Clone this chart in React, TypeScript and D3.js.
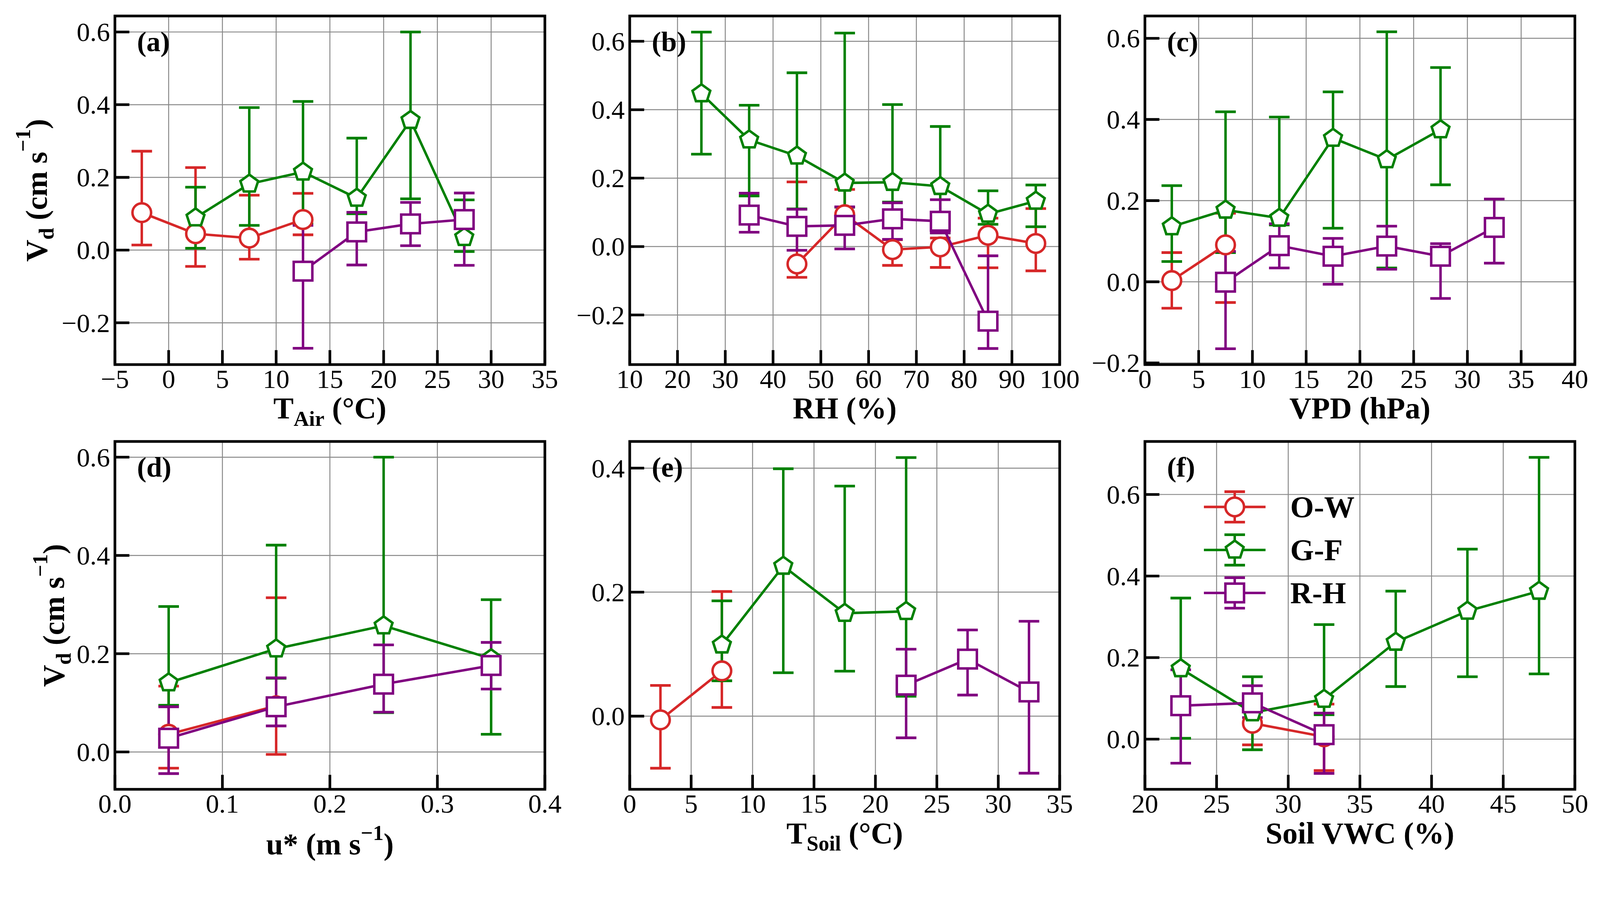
import React from "react";
import * as d3 from "d3";

// ---------------- DATA ----------------
// Panel (a) T_Air (°C)
const a_ow_x = [-2.5, 2.5, 7.5, 12.5];
const a_ow_y = [0.103, 0.045, 0.033, 0.084];
const a_ow_lo = [0.014, -0.045, -0.025, 0.042];
const a_ow_hi = [0.272, 0.227, 0.151, 0.156];
const a_gf_x = [2.5, 7.5, 12.5, 17.5, 22.5, 27.5];
const a_gf_y = [0.089, 0.182, 0.215, 0.143, 0.357, 0.035];
const a_gf_lo = [0.005, 0.068, 0.072, 0.1, 0.141, -0.004];
const a_gf_hi = [0.173, 0.392, 0.409, 0.308, 0.6, 0.138];
const a_rh_x = [12.5, 17.5, 22.5, 27.5];
const a_rh_y = [-0.058, 0.05, 0.072, 0.084];
const a_rh_lo = [-0.27, -0.041, 0.012, -0.042];
const a_rh_hi = [0.068, 0.104, 0.131, 0.157];

// Panel (b) RH (%)
const b_ow_x = [45, 55, 65, 75, 85, 95];
const b_ow_y = [-0.051, 0.093, -0.009, -0.001, 0.033, 0.009];
const b_ow_lo = [-0.09, 0.04, -0.055, -0.061, -0.062, -0.071];
const b_ow_hi = [0.189, 0.167, 0.02, 0.025, 0.083, 0.111];
const b_gf_x = [25, 35, 45, 55, 65, 75, 85, 95];
const b_gf_y = [0.447, 0.312, 0.265, 0.186, 0.188, 0.176, 0.095, 0.133];
const b_gf_lo = [0.27, 0.148, 0.11, 0.115, 0.13, 0.04, 0.065, 0.058];
const b_gf_hi = [0.627, 0.413, 0.508, 0.624, 0.415, 0.351, 0.163, 0.18];
const b_rh_x = [35, 45, 55, 65, 75, 85];
const b_rh_y = [0.092, 0.059, 0.062, 0.081, 0.074, -0.218];
const b_rh_lo = [0.042, -0.011, -0.007, 0.021, 0.04, -0.298];
const b_rh_hi = [0.156, 0.109, 0.116, 0.128, 0.137, -0.027];

// Panel (c) VPD (hPa)
const c_ow_x = [2.5, 7.5];
const c_ow_y = [0.003, 0.091];
const c_ow_lo = [-0.065, -0.051];
const c_ow_hi = [0.072, 0.169];
const c_gf_x = [2.5, 7.5, 12.5, 17.5, 22.5, 27.5];
const c_gf_y = [0.136, 0.177, 0.157, 0.354, 0.301, 0.375];
const c_gf_lo = [0.05, 0.072, 0.14, 0.132, 0.034, 0.239];
const c_gf_hi = [0.237, 0.419, 0.406, 0.468, 0.616, 0.528];
const c_rh_x = [7.5, 12.5, 17.5, 22.5, 27.5, 32.5];
const c_rh_y = [-0.001, 0.089, 0.063, 0.088, 0.063, 0.134];
const c_rh_lo = [-0.165, 0.034, -0.006, 0.031, -0.041, 0.046];
const c_rh_hi = [0.075, 0.143, 0.107, 0.137, 0.094, 0.204];

// Panel (d) u* (m s-1)
const d_ow_x = [0.05, 0.15];
const d_ow_y = [0.036, 0.094];
const d_ow_lo = [-0.033, -0.005];
const d_ow_hi = [0.134, 0.314];
const d_gf_x = [0.05, 0.15, 0.25, 0.35];
const d_gf_y = [0.141, 0.21, 0.257, 0.19];
const d_gf_lo = [0.095, 0.15, 0.08, 0.036];
const d_gf_hi = [0.296, 0.421, 0.6, 0.31];
const d_rh_x = [0.05, 0.15, 0.25, 0.35];
const d_rh_y = [0.028, 0.092, 0.138, 0.176];
const d_rh_lo = [-0.044, 0.053, 0.081, 0.128];
const d_rh_hi = [0.092, 0.151, 0.218, 0.223];

// Panel (e) T_Soil (°C)
const e_ow_x = [2.5, 7.5];
const e_ow_y = [-0.006, 0.073];
const e_ow_lo = [-0.084, 0.014];
const e_ow_hi = [0.0495, 0.201];
const e_gf_x = [7.5, 12.5, 17.5, 22.5];
const e_gf_y = [0.115, 0.242, 0.166, 0.169];
const e_gf_lo = [0.057, 0.07, 0.0725, 0.032];
const e_gf_hi = [0.186, 0.399, 0.371, 0.417];
const e_rh_x = [22.5, 27.5, 32.5];
const e_rh_y = [0.05, 0.092, 0.039];
const e_rh_lo = [-0.035, 0.034, -0.092];
const e_rh_hi = [0.108, 0.139, 0.153];

// Panel (f) Soil VWC (%)
const f_ow_x = [27.5, 32.5];
const f_ow_y = [0.039, 0.006];
const f_ow_lo = [-0.014, -0.077];
const f_ow_hi = [0.07, 0.086];
const f_gf_x = [22.5, 27.5, 32.5, 37.5, 42.5, 47.5];
const f_gf_y = [0.173, 0.065, 0.098, 0.238, 0.314, 0.363];
const f_gf_lo = [0.002, -0.026, 0.06, 0.129, 0.153, 0.16];
const f_gf_hi = [0.346, 0.153, 0.281, 0.363, 0.466, 0.691];
const f_rh_x = [22.5, 27.5, 32.5];
const f_rh_y = [0.082, 0.089, 0.011];
const f_rh_lo = [-0.059, 0.053, -0.084];
const f_rh_hi = [0.17, 0.131, 0.064];

// Axis ticks
const xTicksA = [-5, 0, 5, 10, 15, 20, 25, 30, 35];
const xTicksB = [10, 20, 30, 40, 50, 60, 70, 80, 90, 100];
const xTicksC = [0, 5, 10, 15, 20, 25, 30, 35, 40];
const xTicksD = [0.0, 0.1, 0.2, 0.3, 0.4];
const xTicksE = [0, 5, 10, 15, 20, 25, 30, 35];
const xTicksF = [20, 25, 30, 35, 40, 45, 50];
const yTicksABC = [-0.2, 0.0, 0.2, 0.4, 0.6];
const yTicksDF = [0.0, 0.2, 0.4, 0.6];
const yTicksE = [0.0, 0.2, 0.4];

const seriesNames = ["O-W", "G-F", "R-H"];

// ---------------- STYLE ----------------
const COLORS = ["#d62728", "#008000", "#800080"];
const MARKERS = ["circle", "pentagon", "square"];
const FONT = "'Liberation Serif', 'Times New Roman', Times, serif";
const PW = 1130;
const LW = 6.5;
const CAP = 27;
const MS = 24.5;

type Series = { x: number[]; y: number[]; lo: number[]; hi: number[] };
const S = (x: number[], y: number[], lo: number[], hi: number[]): Series => ({ x, y, lo, hi });

const panels = [
  {
    tag: "(a)", left: 302, top: 42, h: 916,
    xDomain: [-5, 35], xTicks: xTicksA, xFmt: d3.format("d"),
    yDomain: [-0.315, 0.644], yTicks: yTicksABC,
    series: [S(a_ow_x, a_ow_y, a_ow_lo, a_ow_hi), S(a_gf_x, a_gf_y, a_gf_lo, a_gf_hi), S(a_rh_x, a_rh_y, a_rh_lo, a_rh_hi)],
    xlabel: "tair", ylabelX: 123,
  },
  {
    tag: "(b)", left: 1655, top: 42, h: 916,
    xDomain: [10, 100], xTicks: xTicksB, xFmt: d3.format("d"),
    yDomain: [-0.345, 0.674], yTicks: yTicksABC,
    series: [S(b_ow_x, b_ow_y, b_ow_lo, b_ow_hi), S(b_gf_x, b_gf_y, b_gf_lo, b_gf_hi), S(b_rh_x, b_rh_y, b_rh_lo, b_rh_hi)],
    xlabel: "rh", ylabelX: null,
  },
  {
    tag: "(c)", left: 3009, top: 42, h: 916,
    xDomain: [0, 40], xTicks: xTicksC, xFmt: d3.format("d"),
    yDomain: [-0.204, 0.655], yTicks: yTicksABC,
    series: [S(c_ow_x, c_ow_y, c_ow_lo, c_ow_hi), S(c_gf_x, c_gf_y, c_gf_lo, c_gf_hi), S(c_rh_x, c_rh_y, c_rh_lo, c_rh_hi)],
    xlabel: "vpd", ylabelX: null,
  },
  {
    tag: "(d)", left: 302, top: 1160, h: 914,
    xDomain: [0, 0.4], xTicks: xTicksD, xFmt: d3.format(".1f"),
    yDomain: [-0.076, 0.632], yTicks: yTicksDF,
    series: [S(d_ow_x, d_ow_y, d_ow_lo, d_ow_hi), S(d_gf_x, d_gf_y, d_gf_lo, d_gf_hi), S(d_rh_x, d_rh_y, d_rh_lo, d_rh_hi)],
    xlabel: "ustar", ylabelX: 168,
  },
  {
    tag: "(e)", left: 1655, top: 1160, h: 914,
    xDomain: [0, 35], xTicks: xTicksE, xFmt: d3.format("d"),
    yDomain: [-0.118, 0.443], yTicks: yTicksE,
    series: [S(e_ow_x, e_ow_y, e_ow_lo, e_ow_hi), S(e_gf_x, e_gf_y, e_gf_lo, e_gf_hi), S(e_rh_x, e_rh_y, e_rh_lo, e_rh_hi)],
    xlabel: "tsoil", ylabelX: null,
  },
  {
    tag: "(f)", left: 3009, top: 1160, h: 914,
    xDomain: [20, 50], xTicks: xTicksF, xFmt: d3.format("d"),
    yDomain: [-0.123, 0.73], yTicks: yTicksDF,
    series: [S(f_ow_x, f_ow_y, f_ow_lo, f_ow_hi), S(f_gf_x, f_gf_y, f_gf_lo, f_gf_hi), S(f_rh_x, f_rh_y, f_rh_lo, f_rh_hi)],
    xlabel: "vwc", ylabelX: null, legend: true,
  },
];

const minus = (s: string) => s.replace(/-/g, "\u2212");

function Marker({ kind, cx, cy, color }: { kind: string; cx: number; cy: number; color: string }) {
  if (kind === "circle")
    return <circle cx={cx} cy={cy} r={MS} fill="white" stroke={color} strokeWidth={LW} />;
  if (kind === "square")
    return <rect x={cx - MS} y={cy - MS} width={2 * MS} height={2 * MS} fill="white" stroke={color} strokeWidth={LW} />;
  const pts = d3.range(5).map((k) => {
    const a = ((-90 + 72 * k) * Math.PI) / 180;
    return `${cx + MS * Math.cos(a)},${cy + MS * Math.sin(a)}`;
  });
  return <polygon points={pts.join(" ")} fill="white" stroke={color} strokeWidth={LW} strokeLinejoin="miter" />;
}

function ErrBar({ cx, y1, y2, color }: { cx: number; y1: number; y2: number; color: string }) {
  return (
    <g stroke={color}>
      <line x1={cx} x2={cx} y1={y1} y2={y2} strokeWidth={LW} />
      <line x1={cx - CAP} x2={cx + CAP} y1={y1} y2={y1} strokeWidth={7} />
      <line x1={cx - CAP} x2={cx + CAP} y1={y2} y2={y2} strokeWidth={7} />
    </g>
  );
}

function XLabel({ kind, cx, base }: { kind: string; cx: number; base: number }) {
  const common = { x: cx, textAnchor: "middle" as const, fontFamily: FONT, fontWeight: "bold", fontSize: 80, fill: "black" };
  if (kind === "tair" || kind === "tsoil")
    return (
      <text {...common} y={base}>
        T<tspan fontSize={56} dy={19}>{kind === "tair" ? "Air" : "Soil"}</tspan>
        <tspan dy={-19}> (°C)</tspan>
      </text>
    );
  if (kind === "ustar")
    return (
      <text {...common} y={base + 29}>
        u* (m s<tspan fontSize={56} dy={-38}>{"\u22121"}</tspan>
        <tspan dy={38}>)</tspan>
      </text>
    );
  const t = kind === "rh" ? "RH (%)" : kind === "vpd" ? "VPD (hPa)" : "Soil VWC (%)";
  return <text {...common} y={base}>{t}</text>;
}

function YLabel({ bx, cy }: { bx: number; cy: number }) {
  return (
    <text transform={`translate(${bx},${cy}) rotate(-90)`} textAnchor="middle" fontFamily={FONT} fontWeight="bold" fontSize={80} fill="black">
      V<tspan fontSize={56} dy={18}>d</tspan>
      <tspan dy={-18}> (cm s</tspan>
      <tspan fontSize={56} dy={-44}>{"\u22121"}</tspan>
      <tspan dy={44}>)</tspan>
    </text>
  );
}

function Legend() {
  const rows = [1332, 1445, 1558];
  const mx = 3245;
  return (
    <g>
      {seriesNames.map((name, i) => (
        <g key={name}>
          <ErrBar cx={mx} y1={rows[i] - 40} y2={rows[i] + 40} color={COLORS[i]} />
          <line x1={3164} x2={3326} y1={rows[i]} y2={rows[i]} stroke={COLORS[i]} strokeWidth={LW} />
          <Marker kind={MARKERS[i]} cx={mx} cy={rows[i]} color={COLORS[i]} />
          <text x={3391} y={rows[i] + 27} fontFamily={FONT} fontWeight="bold" fontSize={80} fill="black">
            {name}
          </text>
        </g>
      ))}
    </g>
  );
}

function Panel({ p }: { p: any }) {
  const x = d3.scaleLinear().domain(p.xDomain).range([p.left, p.left + PW]);
  const y = d3.scaleLinear().domain(p.yDomain).range([p.top + p.h, p.top]);
  const bottom = p.top + p.h;
  const right = p.left + PW;
  const line = d3
    .line<[number, number]>()
    .x((d) => x(d[0]))
    .y((d) => y(d[1]));
  const yFmt = d3.format(".1f");
  return (
    <g>
      <g stroke="#888888" strokeWidth={2.5}>
        {p.xTicks.map((t: number, i: number) => (
          <line key={"gx" + i} x1={x(t)} x2={x(t)} y1={p.top} y2={bottom} />
        ))}
        {p.yTicks.map((t: number, i: number) => (
          <line key={"gy" + i} x1={p.left} x2={right} y1={y(t)} y2={y(t)} />
        ))}
      </g>
      {p.series.map((s: Series, si: number) => (
        <g key={"eb" + si}>
          {s.x.map((xv, i) => (
            <ErrBar key={i} cx={x(xv)} y1={y(s.hi[i])} y2={y(s.lo[i])} color={COLORS[si]} />
          ))}
        </g>
      ))}
      {p.series.map((s: Series, si: number) => (
        <g key={"dl" + si}>
          <path
            d={line(s.x.map((xv, i) => [xv, s.y[i]] as [number, number])) || ""}
            fill="none"
            stroke={COLORS[si]}
            strokeWidth={LW}
            strokeLinejoin="round"
          />
          {s.x.map((xv, i) => (
            <Marker key={i} kind={MARKERS[si]} cx={x(xv)} cy={y(s.y[i])} color={COLORS[si]} />
          ))}
        </g>
      ))}
      <g stroke="black" strokeWidth={7}>
        {p.xTicks.map((t: number, i: number) => (
          <line key={"tx" + i} x1={x(t)} x2={x(t)} y1={bottom} y2={bottom - 38} />
        ))}
        {p.yTicks.map((t: number, i: number) => (
          <line key={"ty" + i} x1={p.left} x2={p.left + 38} y1={y(t)} y2={y(t)} />
        ))}
      </g>
      <rect x={p.left} y={p.top} width={PW} height={p.h} fill="none" stroke="black" strokeWidth={7} />
      <g fontFamily={FONT} fontSize={70} fill="black">
        {p.xTicks.map((t: number, i: number) => (
          <text key={"lx" + i} x={x(t)} y={bottom + 61} textAnchor="middle">
            {minus(p.xFmt(t))}
          </text>
        ))}
        {p.yTicks.map((t: number, i: number) => (
          <text key={"ly" + i} x={p.left - 13} y={y(t) + 24} textAnchor="end">
            {minus(yFmt(t))}
          </text>
        ))}
      </g>
      <text x={p.left + 58} y={p.top + 92} fontFamily={FONT} fontWeight="bold" fontSize={74} fill="black">
        {p.tag}
      </text>
      <XLabel kind={p.xlabel} cx={p.left + PW / 2} base={bottom + 142} />
      {p.ylabelX !== null && <YLabel bx={p.ylabelX} cy={p.top + p.h / 2} />}
      {p.legend && <Legend />}
    </g>
  );
}

export default function App() {
  return (
    <>
      <style>{"html,body{margin:0;padding:0;overflow:hidden;background:white}#root{width:100vw;height:100vh}"}</style>
      <svg
        width="100vw"
        height="100vh"
        viewBox="0 0 4205 2301"
        preserveAspectRatio="xMinYMin meet"
        style={{ position: "fixed", left: 0, top: 0, width: "100vw", height: "100vh", display: "block", background: "white" }}
      >
        <rect x={0} y={0} width={4205} height={2301} fill="white" />
        {panels.map((p, i) => (
          <Panel key={i} p={p} />
        ))}
      </svg>
    </>
  );
}
